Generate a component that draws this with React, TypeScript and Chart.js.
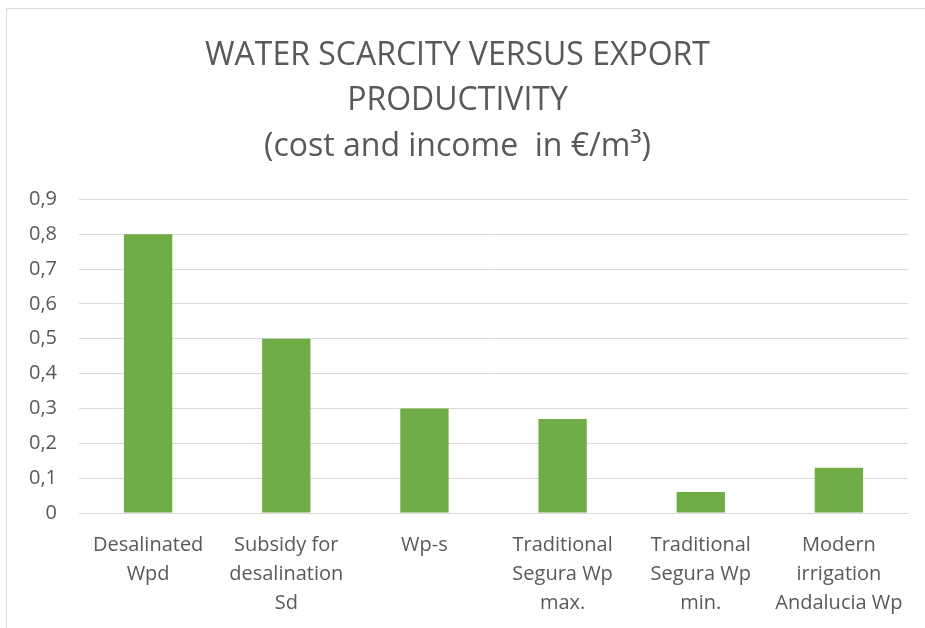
import React, { useEffect, useRef } from "react";
import { Chart, registerables } from "chart.js";

Chart.register(...registerables);

const categories: string[][] = [
  ["Desalinated", "Wpd"],
  ["Subsidy for", "desalination", "Sd"],
  ["Wp-s"],
  ["Traditional", "Segura Wp", "max."],
  ["Traditional", "Segura Wp", "min."],
  ["Modern", "irrigation", "Andalucia Wp"],
];
const values: number[] = [0.8, 0.5, 0.3, 0.27, 0.06, 0.13];
const titleLines: string[] = [
  "WATER SCARCITY VERSUS EXPORT",
  "PRODUCTIVITY",
  "(cost and income  in €/m³)",
];
const yMin = 0;
const yMax = 0.9;
const yStep = 0.1;

export default function App() {
  const ref = useRef<HTMLCanvasElement | null>(null);
  useEffect(() => {
    if (!ref.current) return;
    const chart = new Chart(ref.current, {
      type: "bar",
      data: {
        labels: categories,
        datasets: [
          {
            data: values,
            backgroundColor: "#70AD47",
            borderWidth: 0,
            categoryPercentage: 0.35,
            barPercentage: 1,
          },
        ],
      },
      options: {
        responsive: false,
        animation: false,
        layout: { padding: { left: 7, right: 17, top: 8, bottom: -8 } },
        plugins: {
          legend: { display: false },
          tooltip: { enabled: false },
          title: {
            display: true,
            text: titleLines,
            color: "#595959",
            font: { family: "'Open Sans', sans-serif", size: 32, weight: "normal", lineHeight: 1.42 },
            padding: { top: 25, bottom: 30 },
          },
        },
        scales: {
          x: {
            grid: { display: false, drawTicks: false },
            border: { display: true, color: "#d9d9d9", width: 1 },
            ticks: {
              color: "#595959",
              font: { family: "'Open Sans', sans-serif", size: 20, lineHeight: 1.45 },
              padding: 18,
              maxRotation: 0,
              autoSkip: false,
            },
          },
          y: {
            min: yMin,
            max: yMax,
            grid: { color: "#d9d9d9", lineWidth: 1, drawTicks: false },
            border: { display: false },
            ticks: {
              stepSize: yStep,
              color: "#595959",
              font: { family: "'Open Sans', sans-serif", size: 20 },
              padding: 22,
              callback: (v: any) => {
                const n = Math.round(Number(v) * 10) / 10;
                return n === 0 ? "0" : n.toFixed(1).replace(".", ",");
              },
            },
          },
        },
      },
    });
    return () => chart.destroy();
  }, []);
  return (
    <div style={{ position: "absolute", left: 0, top: 0, width: 925, height: 628, background: "#fff", overflow: "hidden" }}>
      <div
        style={{
          position: "absolute",
          left: 6,
          top: 8,
          width: 940,
          height: 640,
          borderTop: "1px solid #d9d9d9",
          borderLeft: "1px solid #d9d9d9",
        }}
      />
      <canvas ref={ref} width={925} height={628} style={{ position: "absolute", left: 0, top: 0 }} />
    </div>
  );
}
